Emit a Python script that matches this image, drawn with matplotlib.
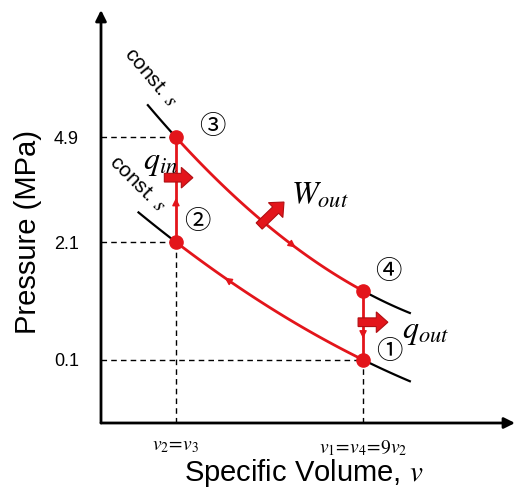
import numpy as np
import matplotlib
matplotlib.use("Agg")
import matplotlib.pyplot as plt

plt.rcParams['font.family'] = ['Liberation Sans', 'DejaVu Sans']
plt.rcParams['mathtext.fontset'] = 'stix'

# state points of the cycle (schematic diagram units)
states = ['1', '2', '3', '4']
v_state = [6.33, 1.81, 1.81, 6.33]
p_state = [1.53, 4.38, 6.92, 3.20]
circled = ['\u2460', '\u2461', '\u2462', '\u2463']

p_ticks = [6.92, 4.38, 1.53]
p_ticklabels = ['4.9', '2.1', '0.1']
v_ticks = [1.81, 6.33]
v_ticklabels = [r'$v_2\!=\!v_3$', r'$v_1\!=\!v_4\!=\!9v_2$']

red = '#e3151b'
dark = '#b00e12'


def bez(pa, pb, bulge, t):
    # quadratic bezier between two states, control point pushed down by bulge
    pa = np.array(pa); pb = np.array(pb)
    c = (pa + pb) / 2 + np.array([0, -bulge])
    t = np.asarray(t)[:, None]
    return (1 - t)**2 * pa + 2 * t * (1 - t) * c + t**2 * pb


def st(i):
    return (v_state[i], p_state[i])


fig = plt.figure(figsize=(5.18, 4.91), dpi=100)
ax = fig.add_axes([101/518, 68/491, 414/518, 413/491])
ax.set_xlim(0, 10)
ax.set_ylim(0, 10)
for s in ax.spines.values():
    s.set_visible(False)

# axes with arrows
ax.annotate('', xy=(1, 0), xytext=(0, 0), xycoords='axes fraction',
            arrowprops=dict(arrowstyle='-|>', lw=2, color='k', mutation_scale=16, shrinkA=0, shrinkB=0))
ax.annotate('', xy=(0, 1), xytext=(0, 0), xycoords='axes fraction',
            arrowprops=dict(arrowstyle='-|>', lw=2, color='k', mutation_scale=16, shrinkA=0, shrinkB=0))

# isentropes 3-4 (upper) and 2-1 (lower), black beyond the cycle
for a, b, bulge, t0, t1 in [(2, 3, 0.63, -0.15, 1.25), (1, 0, 0.31, -0.2, 1.25)]:
    pts = bez(st(a), st(b), bulge, np.linspace(t0, 0, 20))
    ax.plot(pts[:, 0], pts[:, 1], color='k', lw=1.6)
    pts = bez(st(a), st(b), bulge, np.linspace(1, t1, 20))
    ax.plot(pts[:, 0], pts[:, 1], color='k', lw=1.6)

# process lines: (from, to, bulge, arrow position)
processes = [(1, 2, 0.0, 0.4), (2, 3, 0.63, 0.62), (3, 0, 0.0, 0.67), (0, 1, -0.31, 0.72)]
for a, b, bulge, ta in processes:
    if a == 0 and b == 1:
        pts = bez(st(b), st(a), 0.31, np.linspace(0, 1, 60))[::-1]
        arr = bez(st(b), st(a), 0.31, [1 - ta + 0.02, 1 - ta - 0.02])
    else:
        pts = bez(st(a), st(b), bulge, np.linspace(0, 1, 60))
        arr = bez(st(a), st(b), bulge, [ta - 0.02, ta + 0.02])
    ax.plot(pts[:, 0], pts[:, 1], color=red, lw=2)
    ax.annotate('', xy=arr[1], xytext=arr[0],
                arrowprops=dict(arrowstyle='-|>', color=red, lw=1, mutation_scale=11, shrinkA=0, shrinkB=0))

# dashed guide lines
for v, p in zip(v_state[:3], p_state[:3]):
    ax.plot([0, v], [p, p], color='k', lw=1, ls=(0, (4, 3)))
for v, p in zip(v_state[:2], p_state[:2]):
    ax.plot([v, v], [0, p], color='k', lw=1, ls=(0, (4, 3)))

ax.plot(v_state, p_state, 'o', color=red, ms=9.5, ls='none', zorder=5)

lab_pos = [(6.96, 1.74), (2.32, 4.87), (2.68, 7.19), (6.94, 3.67)]
for c, (x, y) in zip(circled, lab_pos):
    ax.text(x, y, c, fontsize=19, ha='center', va='center',
            family=['Noto Sans CJK JP', 'DejaVu Sans'])

# heat and work arrows
for (x0, y0, x1, y1) in [(1.53, 5.94, 2.22, 5.94), (3.82, 4.77, 4.42, 5.35), (6.21, 2.44, 6.93, 2.44)]:
    ax.arrow(x0, y0, x1 - x0, y1 - y0, width=0.21, head_width=0.5, head_length=0.28,
             length_includes_head=True, fc=red, ec=dark, lw=0.8, zorder=6)

ax.text(1.43, 6.30, r'$q_{in}$', fontsize=23, ha='center', va='center')
ax.text(5.29, 5.50, r'$W_{out}$', fontsize=23, ha='center', va='center')
ax.text(7.83, 2.20, r'$q_{out}$', fontsize=23, ha='center', va='center')

ax.text(1.20, 8.36, r'const. $s$', fontsize=15, rotation=-50, ha='center', va='center')
ax.text(0.87, 5.78, r'const. $s$', fontsize=15, rotation=-45, ha='center', va='center')

ax.set_yticks(p_ticks)
ax.set_yticklabels(p_ticklabels, fontsize=13)
ax.set_xticks(v_ticks)
ax.set_xticklabels(v_ticklabels, fontsize=14)
ax.tick_params(axis='x', length=0, pad=11)
ax.tick_params(axis='y', length=0, pad=16)

ax.set_ylabel('Pressure (MPa)', fontsize=21)
ax.yaxis.set_label_coords(-0.143, 0.462)
ax.set_xlabel(r'Specific Volume, $v$', fontsize=21)
ax.xaxis.set_label_coords(0.49, -0.083)

fig.savefig('out.png', dpi=100)
